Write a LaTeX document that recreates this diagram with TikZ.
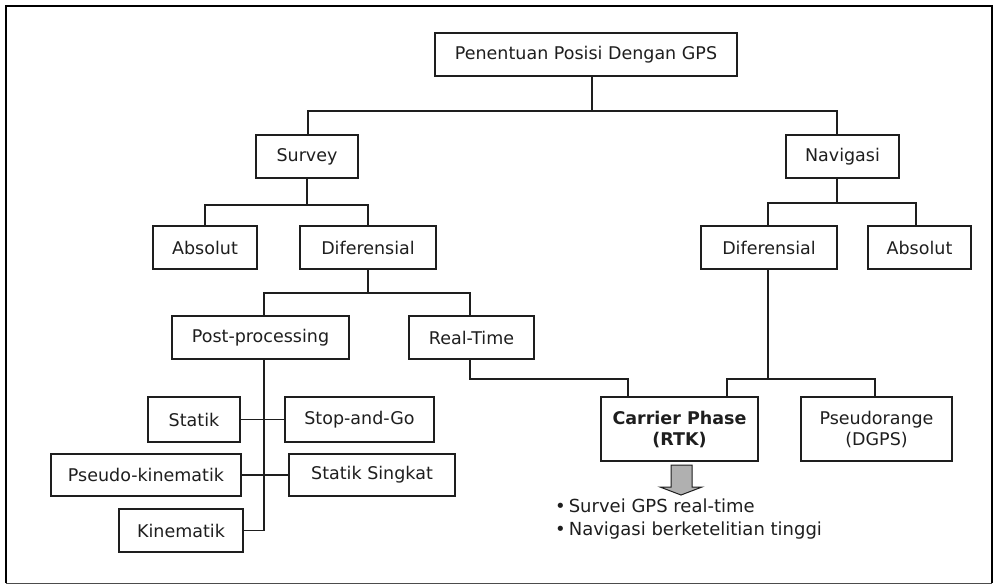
\documentclass[tikz,border=0pt]{standalone}
\usepackage{fontspec}
\setmainfont{DejaVu Sans}
\definecolor{ink}{HTML}{1E1E1E}
\definecolor{arrowgray}{HTML}{B0B0B0}
\begin{document}
\begin{tikzpicture}[x=1pt,y=-1pt,
  box/.style={draw=ink,line width=1.2pt,inner sep=0pt,text=ink,align=center,
    font=\fontsize{17.5}{21}\selectfont},
  conn/.style={draw=ink,line width=1.2pt}]
\useasboundingbox (0,0) rectangle (995,584);
% frame
\draw[line width=2.8pt,black] (6,583) -- (6,6) -- (992,6) -- (992,583);
\draw[line width=1pt,black!70] (6,583) -- (992,583);
% nodes
\node[box,minimum width=302,minimum height=43] (top) at (586,54.5) {Penentuan Posisi Dengan GPS};
\node[box,minimum width=102,minimum height=43] (survey) at (307,156.5) {Survey};
\node[box,minimum width=113,minimum height=43] (nav) at (842.5,156.5) {Navigasi};
\node[box,minimum width=104,minimum height=43] (absL) at (205,247.5) {Absolut};
\node[box,minimum width=136,minimum height=43] (difL) at (368,247.5) {Diferensial};
\node[box,minimum width=136,minimum height=43] (difR) at (769,247.5) {Diferensial};
\node[box,minimum width=103,minimum height=43] (absR) at (919.5,247.5) {Absolut};
\node[box,minimum width=177,minimum height=43] (post) at (260.5,337.5) {Post-processing};
\node[box,minimum width=125,minimum height=43] (real) at (471.5,337.5) {Real-Time};
\node[box,minimum width=157,minimum height=64] (carrier) at (679.5,429) {\bfseries Carrier Phase\\\bfseries (RTK)};
\node[box,minimum width=151,minimum height=64] (pseudo) at (876.5,429) {Pseudorange\\(DGPS)};
\node[box,minimum width=92,minimum height=45] (statik) at (194,419.5) {Statik};
\node[box,minimum width=149,minimum height=45] (stopgo) at (359.5,419.5) {Stop-and-Go};
\node[box,minimum width=190,minimum height=42] (pkin) at (146,475) {Pseudo-kinematik};
\node[box,minimum width=166,minimum height=42] (ssing) at (372,475) {Statik Singkat};
\node[box,minimum width=124,minimum height=43] (kin) at (181,530.5) {Kinematik};
% junctions
\coordinate (j1) at (592,111);
\coordinate (j2) at (307,205);
\coordinate (j3) at (837,203);
\coordinate (j4) at (368,293);
\coordinate (j5) at (628,379);
\coordinate (j6) at (768,379);
\coordinate (j7) at (264,530.5);
% connectors
\draw[conn] ([xshift=6]top.south) -- (j1);
\draw[conn] ([xshift=1]survey.north) |- (j1) -| ([xshift=-5.5]nav.north);
\draw[conn] (survey.south) -- (j2);
\draw[conn] (absL.north) |- (j2) -| (difL.north);
\draw[conn] ([xshift=-5.5]nav.south) -- (j3);
\draw[conn] ([xshift=-1]difR.north) |- (j3) -| ([xshift=-3.5]absR.north);
\draw[conn] (difL.south) -- (j4);
\draw[conn] ([xshift=3.5]post.north) |- (j4) -| ([xshift=-1.5]real.north);
\draw[conn] ([xshift=-1.5]real.south) |- (j5) -- ([xshift=-51.5]carrier.north);
\draw[conn] ([xshift=-1]difR.south) -- (j6);
\draw[conn] ([xshift=47.5]carrier.north) |- (j6) -| ([xshift=-1.5]pseudo.north);
\draw[conn] ([xshift=3.5]post.south) -- (j7) -- (kin.east);
\draw[conn] (statik.east) -- (stopgo.west);
\draw[conn] (pkin.east) -- (ssing.west);
% block arrow
\draw[ink,fill=arrowgray,line width=1pt,line join=miter]
  (671,465) -- (692,465) -- (692,487) -- (702,487) -- (681,495) -- (660,487) -- (671,487) -- cycle;
% bullet list
\node[anchor=north west,inner sep=0pt,text=ink,align=left,
  font=\fontsize{18}{23}\selectfont] (list) at (555,499)
  {•\hspace{3pt}Survei GPS real-time\\•\hspace{3pt}Navigasi berketelitian tinggi};
\end{tikzpicture}
\end{document}
